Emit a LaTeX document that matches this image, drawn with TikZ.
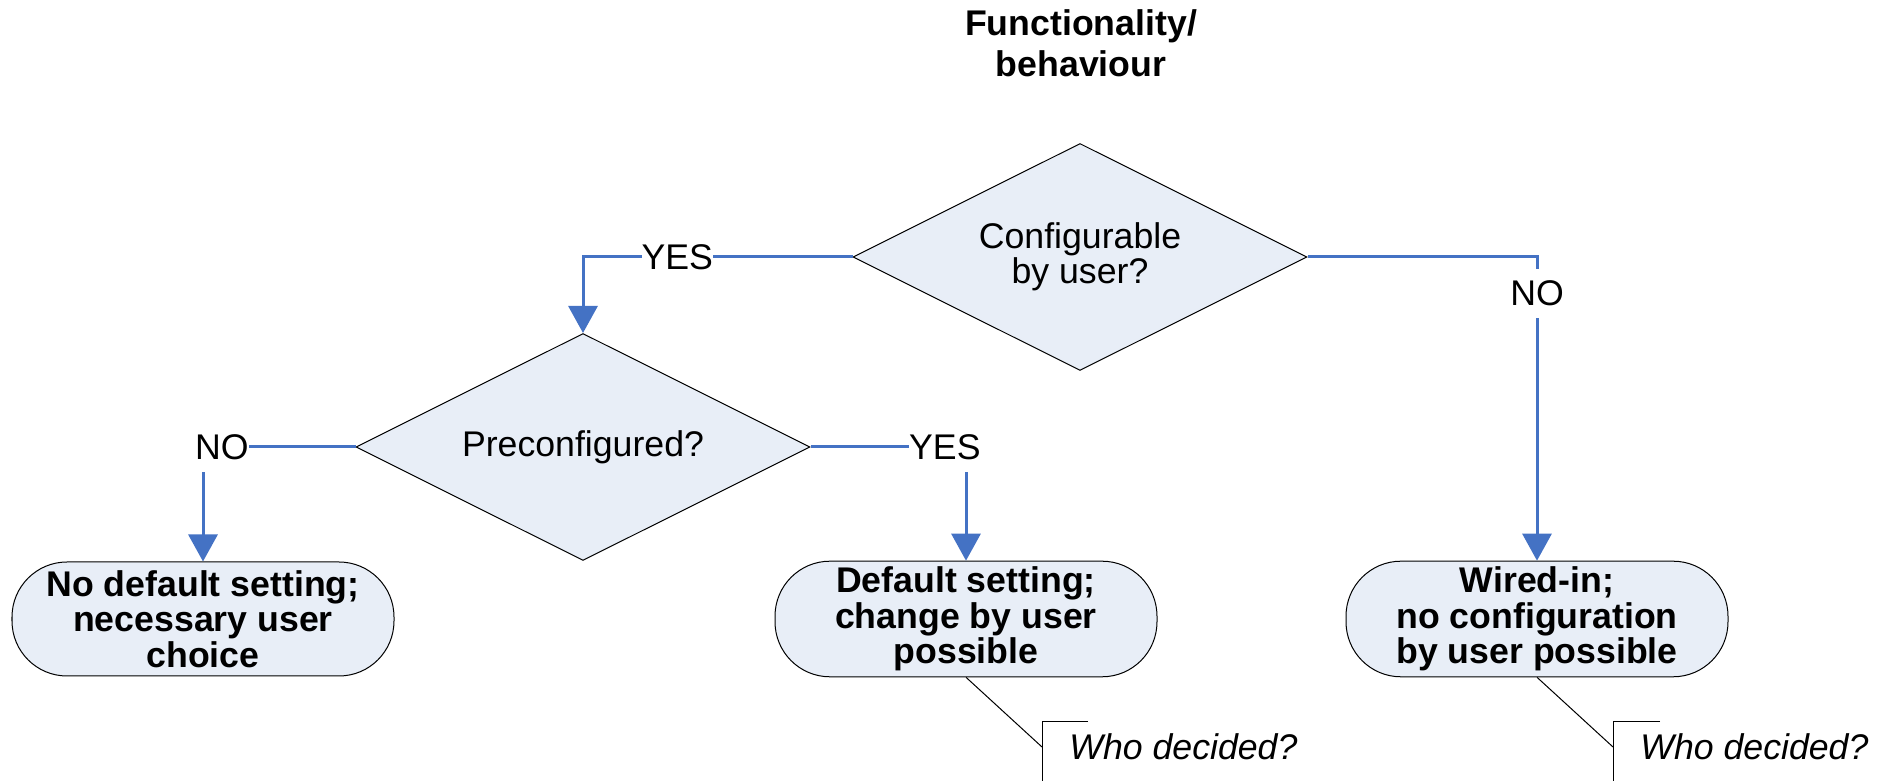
\documentclass[tikz,border=0pt]{standalone}
\usepackage{fontspec}
\setmainfont{Liberation Sans}
\usetikzlibrary{arrows.meta,shapes.geometric}
\definecolor{boxfill}{RGB}{232,238,247}
\definecolor{flowblue}{RGB}{68,114,196}

\begin{document}
\begin{tikzpicture}[x=1cm, y=1cm,
  every node/.style={font=\fontsize{20.3}{20.1}\selectfont},
  decision/.style={diamond, draw, line width=0.02cm, fill=boxfill, aspect=2,
    minimum width=9.08cm, minimum height=4.54cm, inner sep=0pt, align=center},
  terminal/.style={rectangle, draw, line width=0.02cm, fill=boxfill, rounded corners=1.1cm,
    minimum width=7.64cm, minimum height=2.28cm, align=center,
    font=\fontsize{20.3}{20.1}\selectfont\bfseries},
  flow/.style={draw=flowblue, line width=0.06cm, -{Triangle[length=0.54cm,width=0.58cm]}},
  answer/.style={fill=white, inner xsep=0pt, inner ysep=0.24cm},
  note/.style={anchor=west, inner xsep=0.54cm, inner ysep=0.25cm,
    font=\fontsize{20.3}{20.1}\selectfont\itshape},
  thin line/.style={line width=0.02cm}]
\useasboundingbox (0,0) rectangle (37.8,15.62);

\node[font=\fontsize{20.3}{23.3}\selectfont\bfseries, align=center] (title) at (21.62,14.76) {Functionality/\\behaviour};

\node[decision] (cfg) at (21.6,10.48) {Configurable\\by user?};
\node[decision] (pre) at (11.66,6.68) {Preconfigured?};

\node[terminal] (endL) at (4.06,3.24) {No default setting;\\necessary user\\choice};
\node[terminal] (endM) at (19.32,3.24) {Default setting;\\change by user\\possible};
\node[terminal] (endR) at (30.74,3.24) {Wired-in;\\no configuration\\by user possible};

\draw[flow] (cfg.west) -| node[answer, pos=0.325] {YES} (pre.north);
\draw[flow] (cfg.east) -| node[answer, pos=0.56] {NO} (endR.north);
\draw[flow] (pre.west) -| node[answer, pos=0.438] {NO} (endL.north);
\draw[flow] (pre.east) -| node[answer, pos=0.432] {YES} (endM.north);

% who-decided notes
\node[note] (whoM) at (20.84,0.68) {Who decided?};
\node[note] (whoR) at (32.26,0.68) {Who decided?};
\draw[thin line] (endM.south) -- (whoM.west);
\draw[thin line] (endR.south) -- (whoR.west);
\draw[thin line] ([xshift=0.92cm]whoM.north west) -- (whoM.north west) -- ++(0,-1.3);
\draw[thin line] ([xshift=0.94cm]whoR.north west) -- (whoR.north west) -- ++(0,-1.3);
\end{tikzpicture}
\end{document}
